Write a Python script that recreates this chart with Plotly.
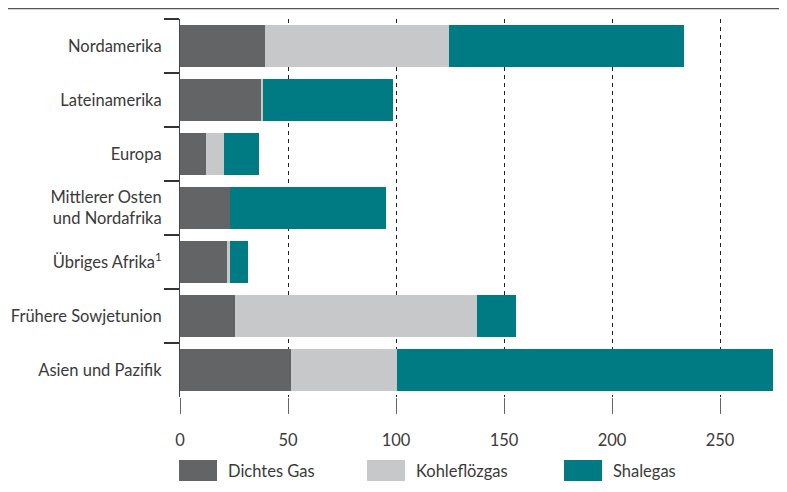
import plotly.graph_objects as go

categories = ["Nordamerika", "Lateinamerika", "Europa", "Mittlerer Osten<br>und Nordafrika",
              "Übriges Afrika<sup>1</sup>", "Frühere Sowjetunion", "Asien und Pazifik"]
dichtes_gas = [39.2, 37.3, 11.9, 23.0, 22.1, 25.3, 51.3]
kohleflozgas = [85.2, 1.0, 8.3, 0.0, 0.9, 112.1, 49.0]
shalegas = [108.8, 60.2, 16.2, 72.2, 8.3, 18.0, 174.1]
x_ticks = [0, 50, 100, 150, 200, 250]

series_names = ["Dichtes Gas", "Kohleflözgas", "Shalegas"]
colors = ["#636466", "#C7C8CA", "#007A83"]
font_family = "Lato, Open Sans, sans-serif"
text_color = "#3a3a3a"
fs = 16.5

# page body has an 8px margin; work in page pixels and convert
OFF = 8
W, H = 787 - OFF, 492 - OFF
L, R, T, B = 180 - OFF, 13, 19 - OFF, 95
pw, ph = W - L - R, H - T - B

fig = go.Figure()
for name, vals, col in zip(series_names, [dichtes_gas, kohleflozgas, shalegas], colors):
    fig.add_trace(go.Bar(y=categories, x=vals, name=name, orientation="h",
                         marker=dict(color=col, line=dict(width=0)), showlegend=False))

def px2paper_x(px):
    return (px - OFF - L) / pw

def px2paper_y(py):
    return (H - B - (py - OFF)) / ph

shapes = []
annotations = []
# top rule
shapes.append(dict(type="line", xref="paper", yref="paper",
                   x0=px2paper_x(8), x1=px2paper_x(787), y0=px2paper_y(8.5), y1=px2paper_y(8.5),
                   line=dict(color="#555555", width=1.5)))
# custom legend
legend_x = [179, 367, 564]
for name, col, lx in zip(series_names, colors, legend_x):
    shapes.append(dict(type="rect", xref="paper", yref="paper",
                       x0=px2paper_x(lx), x1=px2paper_x(lx + 38),
                       y0=px2paper_y(460), y1=px2paper_y(481),
                       fillcolor=col, line=dict(width=0)))
    annotations.append(dict(xref="paper", yref="paper", x=px2paper_x(lx + 47), y=px2paper_y(471),
                            text=name, showarrow=False, xanchor="left", yanchor="middle",
                            font=dict(size=fs, color=text_color, family=font_family)))

fig.update_layout(
    width=W, height=H, barmode="stack", bargap=0.24,
    margin=dict(l=L, r=R, t=T, b=B, pad=0, autoexpand=False),
    plot_bgcolor="white", paper_bgcolor="white",
    font=dict(family=font_family, size=fs, color=text_color),
    shapes=shapes, annotations=annotations,
    xaxis=dict(range=[0, 275], tickvals=x_ticks, ticktext=[str(v) for v in x_ticks],
               showgrid=True, gridcolor="#222222", griddash="4px,4px", gridwidth=1,
               zeroline=False, showline=False, automargin=False,
               ticks="outside", ticklen=16, tickcolor="#666666", tickwidth=1,
               ticklabelstandoff=12,
               tickfont=dict(size=fs, color=text_color)),
    yaxis=dict(autorange="reversed", showgrid=False, zeroline=False,
               showline=True, linecolor="#444444", linewidth=1, automargin=False,
               ticks="outside", tickson="boundaries", ticklen=15, tickcolor="#333333",
               tickwidth=1.5, ticklabelstandoff=14,
               tickfont=dict(size=fs, color=text_color)),
)

fig.write_html("out.html")
